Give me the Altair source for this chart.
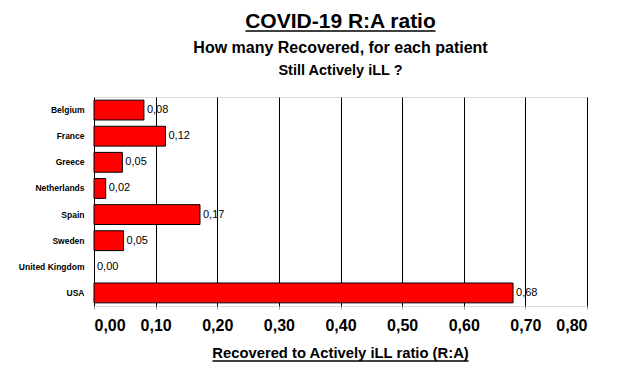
import altair as alt
import pandas as pd

countries = ["Belgium", "France", "Greece", "Netherlands", "Spain", "Sweden", "United Kingdom", "USA"]
ratios = [0.081, 0.116, 0.046, 0.019, 0.172, 0.048, 0.0, 0.68]
x_ticks = [0.0, 0.1, 0.2, 0.3, 0.4, 0.5, 0.6, 0.7, 0.8]

title = "COVID-19 R:A ratio"
subtitle1 = "How many Recovered, for each patient"
subtitle2 = "Still Actively iLL ?"
x_title = "Recovered to Actively iLL ratio (R:A)"

df = pd.DataFrame({"country": countries, "ratio": ratios})

FONT = "Liberation Sans"
W, H = 493, 209

x_enc = alt.X(
    "ratio:Q",
    scale=alt.Scale(domain=[0, 0.8], nice=False),
    axis=alt.Axis(
        values=x_ticks,
        labelExpr="replace(format(datum.value, '.2f'), '.', ',')",
        labelFont=FONT, labelFontSize=16, labelFontWeight="bold", labelColor="black",
        labelPadding=8, tickSize=3, tickColor="#999", domain=False,
        grid=True, gridColor="black", gridWidth=1, gridOpacity=1,
        title=None,
    ),
)
y_enc = alt.Y(
    "country:N",
    sort=countries,
    scale=alt.Scale(paddingInner=0.24, paddingOuter=0.12),
    axis=alt.Axis(
        labelFont=FONT, labelFontSize=8.5, labelFontWeight="bold", labelColor="black",
        labelPadding=10, ticks=False, domain=False, grid=False, title=None,
    ),
)

bars = alt.Chart(df).mark_bar(color="#FF0000", stroke="black", strokeWidth=1).encode(
    x=x_enc, y=y_enc,
    strokeOpacity=alt.condition("datum.ratio > 0", alt.value(1), alt.value(0)),
)

labels = alt.Chart(df).transform_calculate(
    lbl="replace(format(datum.ratio, '.2f'), '.', ',')"
).mark_text(align="left", baseline="middle", dx=3, font=FONT, fontSize=11, color="black").encode(
    x="ratio:Q", y=alt.Y("country:N", sort=countries), text="lbl:N"
)

def txt(s, x, y, size):
    return alt.Chart(pd.DataFrame({"t": [s]})).mark_text(
        font=FONT, fontSize=size, fontWeight="bold", align="center", baseline="alphabetic", color="black"
    ).encode(text="t:N", x=alt.value(x), y=alt.value(y))

def uline(x1, x2, y):
    return alt.Chart(pd.DataFrame({"a": [0]})).mark_rule(color="black", strokeWidth=1.5).encode(
        x=alt.value(x1), x2=alt.value(x2), y=alt.value(y)
    )

cx = W / 2
deco = (
    txt(title, cx, -69, 21)
    + uline(cx - 95, cx + 95, -66)
    + txt(subtitle1, cx, -44, 16)
    + txt(subtitle2, cx, -22, 14.5)
    + txt(x_title, cx, H + 52, 14.8)
    + uline(cx - 128, cx + 128, H + 55)
)

chart = (
    alt.layer(bars, labels, deco)
    .properties(width=W, height=H, padding={"left": 86, "top": 89, "right": 20, "bottom": 70})
    .configure_view(stroke="black", strokeWidth=2)
    .configure(autosize=alt.AutoSizeParams(type="none"))
)

chart.save("out.html", embed_options={"renderer": "svg", "actions": False})
